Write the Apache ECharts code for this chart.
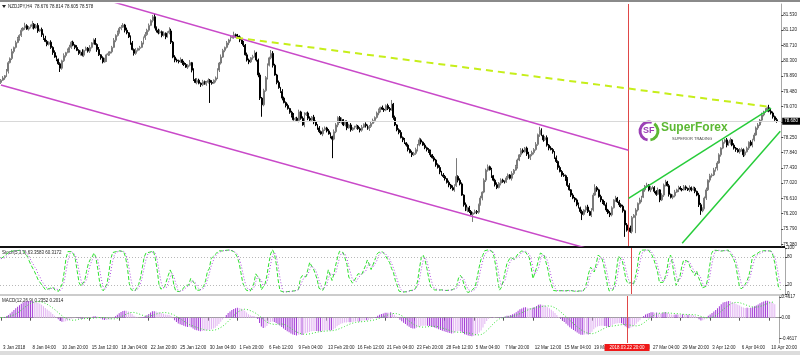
<!DOCTYPE html>
<html>
<head>
<meta charset="utf-8">
<script src="https://cdn.jsdelivr.net/npm/echarts@6/dist/echarts.min.js"></script>
<style>
  html, body { margin: 0; padding: 0; background: #fff; }
  #chart { width: 800px; height: 355px; }
</style>
</head>
<body>
<div id="chart"></div>
<script>
// NZDJPY H4, 3 Jan - 11 Apr 2018
const tickLabels = ['3 Jan 2018', '8 Jan 04:00', '10 Jan 20:00', '15 Jan 12:00', '18 Jan 04:00', '22 Jan 20:00',
  '25 Jan 12:00', '30 Jan 04:00', '1 Feb 20:00', '6 Feb 12:00', '9 Feb 04:00', '13 Feb 20:00', '16 Feb 12:00',
  '21 Feb 04:00', '23 Feb 20:00', '28 Feb 12:00', '5 Mar 04:00', '7 Mar 20:00', '12 Mar 12:00', '15 Mar 04:00',
  '19 Mar 20:00', '22 Mar 12:00', '27 Mar 04:00', '29 Mar 20:00', '3 Apr 12:00', '6 Apr 04:00', '10 Apr 20:00'];

const firstOpen = 79.72;
const closes = [
  79.78, 79.84, 79.90, 80.02, 80.25, 80.36, 80.55, 80.66, 80.79, 80.90, 80.98, 81.12, 81.18, 81.24, 81.15, 81.20,
  81.22, 81.28, 81.18, 81.25, 81.10, 81.14, 81.00, 80.90, 80.82, 80.74, 80.80, 80.66, 80.52, 80.40, 80.34, 80.22,
  80.10, 80.30, 80.44, 80.52, 80.58, 80.66, 80.80, 80.72, 80.66, 80.58, 80.50, 80.53, 80.45, 80.58, 80.64, 80.56,
  80.66, 80.78, 80.86, 80.74, 80.60, 80.46, 80.38, 80.27, 80.32, 80.46, 80.50, 80.54, 80.66, 80.85, 80.98, 81.06,
  81.17, 81.20, 81.26, 81.12, 81.05, 80.94, 80.78, 80.60, 80.50, 80.58, 80.63, 80.66, 80.78, 80.92, 81.00, 81.12,
  81.25, 81.38, 81.48, 81.20, 81.12, 81.05, 81.08, 80.98, 81.04, 80.94, 81.05, 81.10, 80.80, 80.40, 80.32, 80.30,
  80.28, 80.33, 80.25, 80.20, 80.13, 80.18, 80.25, 80.05, 79.80, 79.72, 79.78, 79.70, 79.66, 79.74, 79.68, 79.72,
  79.78, 79.72, 79.70, 79.78, 79.84, 80.05, 80.24, 80.40, 80.58, 80.66, 80.78, 80.86, 80.92, 80.94, 81.00, 80.96,
  80.94, 80.86, 80.78, 80.72, 80.46, 80.32, 80.27, 80.38, 80.41, 80.51, 80.32, 79.92, 79.30, 79.12, 79.50, 79.85,
  80.18, 80.38, 80.50, 80.18, 79.92, 79.72, 79.58, 79.48, 79.30, 79.18, 79.10, 79.02, 78.92, 78.84, 78.72, 78.76,
  78.70, 78.93, 78.76, 78.58, 78.85, 78.90, 78.76, 78.71, 78.79, 78.66, 78.58, 78.50, 78.40, 78.34, 78.45, 78.50,
  78.42, 78.34, 78.27, 78.20, 78.40, 78.58, 78.78, 78.66, 78.72, 78.58, 78.66, 78.50, 78.58, 78.45, 78.50, 78.52,
  78.55, 78.48, 78.44, 78.52, 78.60, 78.56, 78.48, 78.54, 78.62, 78.70, 78.78, 78.90, 78.96, 79.05, 79.00, 78.98,
  79.10, 79.02, 78.98, 79.14, 78.78, 78.58, 78.45, 78.38, 78.24, 78.18, 78.10, 78.04, 77.92, 77.84, 77.78, 77.82,
  77.92, 78.04, 78.18, 78.12, 78.04, 77.97, 77.92, 77.86, 77.78, 77.70, 77.64, 77.51, 77.44, 77.32, 77.24, 77.20,
  77.14, 77.04, 76.97, 76.90, 76.84, 76.95, 77.20, 77.10, 77.00, 76.70, 76.44, 76.30, 76.36, 76.26, 76.18, 76.22,
  76.26, 76.24, 76.44, 76.62, 76.78, 77.10, 77.37, 77.46, 77.38, 77.22, 77.10, 76.98, 76.90, 77.02, 77.10, 77.06,
  77.05, 77.16, 77.24, 77.15, 77.28, 77.37, 77.46, 77.64, 77.78, 77.90, 77.86, 77.96, 77.80, 77.70, 77.78, 77.84,
  77.92, 78.06, 78.32, 78.44, 78.30, 78.18, 78.24, 78.04, 77.96, 77.92, 77.86, 77.70, 77.60, 77.44, 77.33, 77.24,
  77.22, 77.14, 76.96, 76.84, 76.70, 76.62, 76.57, 76.44, 76.36, 76.26, 76.18, 76.30, 76.38, 76.26, 76.16, 76.30,
  76.70, 76.90, 76.84, 76.66, 76.57, 76.50, 76.44, 76.30, 76.22, 76.17, 76.36, 76.57, 76.62, 76.52, 76.44, 76.40,
  76.28, 75.90, 75.76, 75.82, 75.72, 76.10, 76.16, 76.30, 76.48, 76.57, 76.64, 76.84, 76.94, 76.97, 76.84, 76.90,
  76.90, 76.80, 76.72, 76.84, 76.57, 76.70, 76.97, 77.05, 76.95, 76.72, 76.64, 76.68, 76.78, 76.84, 76.90, 76.86,
  76.84, 76.92, 76.88, 76.84, 76.90, 76.84, 76.88, 76.80, 76.70, 76.44, 76.28, 76.34, 76.62, 76.84, 77.10, 77.22,
  77.24, 77.37, 77.42, 77.56, 77.78, 77.96, 78.12, 78.18, 78.04, 78.10, 78.18, 78.04, 77.96, 77.92, 77.86, 77.90,
  77.92, 77.78, 77.86, 77.96, 78.12, 78.04, 78.18, 78.31, 78.50, 78.58, 78.71, 78.85, 78.92, 78.98, 79.04, 78.95,
  78.90, 78.80, 78.72, 78.68
];
// wick lengths above/below the body, in hundredths of a yen
const hiWick = [
  3,5,2,6,4,3,7,2,5,4,3,6,2,8,4,3,  5,9,3,4,6,2,5,3,7,4,2,5,3,6,4,2,  4,3,6,2,5,7,3,4,2,6,3,5,8,2,4,3,
  6,2,4,5,3,7,2,4,6,3,5,2,4,6,3,5,  4,6,5,3,7,2,4,5,3,6,2,4,5,3,7,4,  5,3,5,8,2,4,6,3,5,2,4,10,6,3,5,4,
  3,6,2,5,4,3,7,2,5,3,6,4,2,5,3,4,  5,3,6,2,4,5,3,7,4,2,5,3,6,4,8,3,  6,4,2,5,3,6,4,2,5,7,3,4,6,3,5,4,
  5,3,9,6,4,3,5,2,6,4,3,5,2,4,6,3,  4,6,3,5,7,2,4,5,3,6,4,2,5,3,6,4,  3,5,4,2,6,5,3,4,6,2,5,4,3,5,2,4,
  5,3,4,6,2,5,3,4,6,5,3,4,6,2,5,4,  3,5,4,11,3,5,2,4,6,3,5,2,4,3,5,4, 5,3,6,4,2,5,3,4,6,2,5,3,4,6,3,5,
  4,2,5,3,6,4,49,3,5,4,2,6,3,5,4,3, 5,4,3,6,2,5,4,6,3,5,2,4,6,3,5,4,  3,5,4,2,6,3,5,4,2,6,5,3,4,6,2,5,
  4,6,3,9,5,2,4,6,3,5,4,2,6,3,5,4,  5,3,4,6,2,5,3,4,6,3,5,2,4,6,3,5,  6,9,4,3,5,2,4,6,3,5,4,2,6,3,5,4,
  4,3,5,2,6,4,3,5,2,6,4,5,3,6,2,4,  5,4,3,6,2,5,4,6,3,5,2,4,6,3,5,4,  3,5,4,2,6,3,5,4,2,6,5,3,4,6,2,5,
  4,6,3,5,4,2,6,3,5,4,6,2,5,3,4,6,  5,3,6,4,2,5,3,6,4,5,3,6,4,5,3,8,  6,4,3,5
];
const loWick = [
  4,2,5,3,6,2,4,5,3,2,6,4,3,5,2,4,  3,6,4,2,5,3,6,4,2,5,3,4,6,2,5,3,  10,4,3,5,2,6,4,3,5,2,4,6,3,5,2,4,
  5,3,4,2,6,3,5,4,2,5,3,6,4,2,5,3,  3,5,2,6,4,3,5,2,6,4,3,5,2,4,6,3,  4,2,5,3,6,4,2,5,3,6,2,4,5,3,6,4,
  5,3,6,4,2,5,3,6,4,2,5,3,6,4,2,5,  3,55,4,2,6,3,5,4,2,5,3,6,4,2,5,3, 4,6,3,5,2,4,6,3,5,2,4,6,5,32,4,3,
  5,3,4,6,2,5,3,4,6,2,5,3,4,6,2,5,  3,5,4,2,6,3,5,4,2,6,3,5,4,2,6,3,  4,2,5,51,3,4,6,2,5,3,4,6,2,5,3,4,
  5,3,6,4,2,5,3,6,4,2,5,3,6,4,2,5,  3,4,5,2,6,3,4,5,2,6,3,4,5,2,6,3,  4,5,3,6,2,4,5,3,6,2,4,5,3,6,2,4,
  5,3,6,4,2,5,3,6,4,2,5,3,6,4,2,20, 3,5,4,2,6,3,5,4,2,6,3,5,4,2,6,3,  4,2,5,3,6,4,2,5,3,6,4,2,5,3,6,4,
  5,3,4,6,2,5,3,4,6,2,5,3,4,6,2,5,  3,6,4,2,5,3,6,4,2,5,15,3,6,4,2,5, 4,2,5,3,6,4,2,5,3,6,4,2,5,3,6,4,
  5,32,4,6,3,5,2,48,4,3,6,2,5,3,4,6, 3,5,4,2,6,3,5,4,2,6,3,5,4,2,6,3, 4,2,5,3,6,4,2,5,3,6,11,4,2,5,3,6,
  5,3,4,6,2,5,3,4,6,2,5,3,4,6,2,5,  3,6,4,2,5,3,6,4,2,5,3,6,4,2,5,3,  4,5,3,4
];

const priceTicks = [81.53, 81.12, 80.71, 80.30, 79.89, 79.48, 79.07, 78.66, 78.25, 77.84, 77.43, 77.02, 76.61, 76.20, 75.79, 75.38];
const stochTicks = [100, 80, 20, 0];
const macdTicks = [0.4617, 0, -0.4617];

// trend lines: [bar index, price]
const channelUpper = [[57, 81.93], [339, 77.90]];
const channelLower = [[0, 79.65], [316, 75.28]];
const resistance = [[127, 80.92], [416, 79.06]];
const wedgeUpper = [[339, 76.61], [416, 79.03]];
const wedgeLower = [[368, 75.41], [421, 78.41]];
const cursorBar = 339;
const cursorLabel = '2018.03.22 20:00';

const barCount = 422;
const cats = Array.from({ length: barCount }, (_, i) => String(i));

const candles = closes.map((c, i) => {
  const o = i === 0 ? firstOpen : closes[i - 1];
  return [o, c, Math.min(o, c) - loWick[i] / 100, Math.max(o, c) + hiWick[i] / 100];
});

function stochastic(kPeriod, slowing, dPeriod) {
  const main = [];
  for (let i = 0; i < closes.length; i++) {
    let num = 0, den = 0;
    for (let j = Math.max(0, i - slowing + 1); j <= i; j++) {
      let hh = -Infinity, ll = Infinity;
      for (let m = Math.max(0, j - kPeriod + 1); m <= j; m++) {
        hh = Math.max(hh, candles[m][3]);
        ll = Math.min(ll, candles[m][2]);
      }
      num += closes[j] - ll;
      den += hh - ll;
    }
    main.push(den > 0 ? num / den * 100 : 50);
  }
  const signal = main.map((v, i) => {
    const w = main.slice(Math.max(0, i - dPeriod + 1), i + 1);
    return w.reduce((a, b) => a + b, 0) / w.length;
  });
  return [main, signal];
}

function ema(src, p) {
  const a = 2 / (p + 1), out = [];
  src.forEach((v, i) => out.push(i ? out[i - 1] + a * (v - out[i - 1]) : v));
  return out;
}

const [stochMain, stochSignal] = stochastic(5, 3, 3);
const ema12 = ema(closes, 12), ema26 = ema(closes, 26);
const macdMain = ema12.map((v, i) => v - ema26[i]);
const macdSignal = macdMain.map((v, i) => {
  const w = macdMain.slice(Math.max(0, i - 8), i + 1);
  return w.reduce((a, b) => a + b, 0) / w.length;
});
const macdBars = macdMain.map((v, i) => ({
  value: v,
  itemStyle: { color: i > 0 && Math.abs(v) < Math.abs(macdMain[i - 1]) ? '#e2b4f2' : '#a43cd6' }
}));

const lastClose = closes[closes.length - 1];
const FONT = 'Liberation Sans';
const txt = { fontFamily: FONT, fontSize: 4.5, color: '#222' };

function trendLine(data, color, width, type, grid) {
  return {
    type: 'line', xAxisIndex: grid, yAxisIndex: grid, data: data, symbol: 'none', silent: true,
    lineStyle: { color: color, width: width, type: type }, z: 5
  };
}

function xAxisFor(idx, showLabels) {
  return {
    type: 'category', gridIndex: idx, data: cats, boundaryGap: true,
    axisLine: { show: showLabels, lineStyle: { color: '#9a9a9a', width: 1 } },
    axisTick: {
      show: showLabels, alignWithLabel: true, length: 3, lineStyle: { color: '#555' },
      interval: (i) => i % 16 === 0 && i / 16 < tickLabels.length
    },
    axisLabel: {
      show: showLabels, ...txt, align: 'left', margin: 2, padding: [0, 0, 0, 2],
      interval: (i) => i % 16 === 0 && i / 16 < tickLabels.length,
      formatter: (v, i) => tickLabels[i / 16]
    },
    splitLine: { show: false }
  };
}

function yAxisFor(idx, min, max, ticks, fmt) {
  return {
    type: 'value', gridIndex: idx, position: 'right', min: min, max: max, scale: true,
    axisLine: { show: true, lineStyle: { color: '#a8a8a8', width: 1 } },
    axisTick: { show: true, length: 2, customValues: ticks, lineStyle: { color: '#444' } },
    axisLabel: { ...txt, margin: 2, customValues: ticks, formatter: fmt },
    splitLine: { show: false }
  };
}

function cursorMark(withLabel) {
  return {
    symbol: 'none', silent: true, z: 10,
    lineStyle: { color: '#e04848', width: 1, type: 'solid', opacity: 1 },
    label: withLabel
      ? { show: true, position: 'start', formatter: cursorLabel, ...txt, color: '#fff', backgroundColor: '#f01818', padding: [1, 5], distance: 1 }
      : { show: false },
    data: [{ xAxis: cursorBar }]
  };
}

const chart = echarts.init(document.getElementById('chart'), null, { renderer: 'canvas' });

const option = {
  animation: false,
  backgroundColor: '#ffffff',
  grid: [
    { left: 0, right: 15, top: 4, height: 242 },
    { left: 0, right: 15, top: 248, height: 46 },
    { left: 0, right: 15, top: 296, height: 47 }
  ],
  xAxis: [xAxisFor(0, false), xAxisFor(1, false), xAxisFor(2, true)],
  yAxis: [
    yAxisFor(0, 75.335, 81.823, priceTicks, (v) => v.toFixed(3)),
    yAxisFor(1, 0, 100, stochTicks, (v) => String(v)),
    yAxisFor(2, -0.56, 0.48, macdTicks, (v) => (v === 0 ? '0.00' : v.toFixed(4)))
  ],
  graphic: [
    { type: 'rect', shape: { x: 0, y: 0, width: 800, height: 2 }, style: { fill: '#8a8a8a' } },
    { type: 'rect', shape: { x: 0, y: 246, width: 785, height: 2 }, style: { fill: '#111' } },
    { type: 'rect', shape: { x: 0, y: 294.5, width: 785, height: 1 }, style: { fill: '#9a9a9a' } },
    { type: 'rect', shape: { x: 0, y: 351, width: 800, height: 4 }, style: { fill: '#dcdcdc' } },
    { type: 'polygon', shape: { points: [[2, 5], [6, 5], [4, 8]] }, style: { fill: '#222' } },
    { type: 'text', left: 8, top: 4, style: { text: 'NZDJPY,H4  78.676 78.814 78.605 78.578', font: '4.5px ' + FONT, fill: '#222' } },
    { type: 'text', left: 2, top: 250, style: { text: 'Stoch(5,3,3) 63.3583 60.3172', font: '4.5px ' + FONT, fill: '#222' } },
    { type: 'text', left: 2, top: 298, style: { text: 'MACD(12,26,9) 0.2352 0.2014', font: '4.5px ' + FONT, fill: '#222' } },
    // SuperForex logo
    { type: 'arc', shape: { cx: 649, cy: 131, r: 9, startAngle: Math.PI * 0.55, endAngle: Math.PI * 1.6 }, style: { stroke: '#9b3fb5', lineWidth: 3, fill: null } },
    { type: 'arc', shape: { cx: 649, cy: 131, r: 9, startAngle: Math.PI * 1.7, endAngle: Math.PI * 0.45 }, style: { stroke: '#5cb833', lineWidth: 3, fill: null } },
    { type: 'text', left: 643, top: 126, style: { text: 'SF', font: 'bold 9px ' + FONT, fill: '#9b3fb5' } },
    { type: 'text', left: 661, top: 122, style: { text: 'SuperForex', font: 'bold 12px ' + FONT, fill: '#5cb833' } },
    { type: 'text', left: 672, top: 137, style: { text: 'SUPERIOR TRADING', font: '4px ' + FONT, fill: '#444' } }
  ],
  series: [
    {
      type: 'candlestick', xAxisIndex: 0, yAxisIndex: 0, data: candles, barWidth: 1.4,
      itemStyle: { color: '#ffffff', color0: '#000000', borderColor: '#7a7a7a', borderColor0: '#000000', borderWidth: 1 },
      markLine: {
        symbol: 'none', silent: true, animation: false,
        data: [
          { yAxis: lastClose, lineStyle: { color: '#d8d8d8', width: 1, type: 'solid' },
            label: { show: true, position: 'end', formatter: lastClose.toFixed(3), ...txt, color: '#fff', backgroundColor: '#000', padding: [1, 2], distance: 1 } },
          { xAxis: cursorBar, lineStyle: { color: '#e04848', width: 1, type: 'solid' }, label: { show: false } }
        ]
      },
      z: 3
    },
    trendLine(channelUpper, '#c94ac9', 1.5, 'solid', 0),
    trendLine(channelLower, '#c94ac9', 1.5, 'solid', 0),
    trendLine(resistance, '#c6ee1a', 2, [7, 5], 0),
    trendLine(wedgeUpper, '#27cc3a', 1.5, 'solid', 0),
    trendLine(wedgeLower, '#27cc3a', 1.5, 'solid', 0),
    {
      type: 'line', xAxisIndex: 1, yAxisIndex: 1, data: stochMain, symbol: 'none',
      lineStyle: { color: '#2ee02e', width: 1, type: [4, 2] },
      markLine: {
        symbol: 'none', silent: true,
        lineStyle: { color: '#b8b8b8', type: [1, 2], width: 1 },
        label: { show: false },
        data: [{ yAxis: 80 }, { yAxis: 20 }]
      }
    },
    {
      type: 'line', xAxisIndex: 1, yAxisIndex: 1, data: stochSignal, symbol: 'none',
      lineStyle: { color: '#b04ee0', width: 1, type: [1, 2] },
      markLine: cursorMark(false)
    },
    {
      type: 'bar', xAxisIndex: 2, yAxisIndex: 2, data: macdBars, barWidth: 1,
      markLine: cursorMark(true)
    },
    {
      type: 'line', xAxisIndex: 2, yAxisIndex: 2, data: macdSignal, symbol: 'none',
      lineStyle: { color: '#33e033', width: 1, type: [1, 2] }
    }
  ]
};

chart.setOption(option);
</script>
</body>
</html>
